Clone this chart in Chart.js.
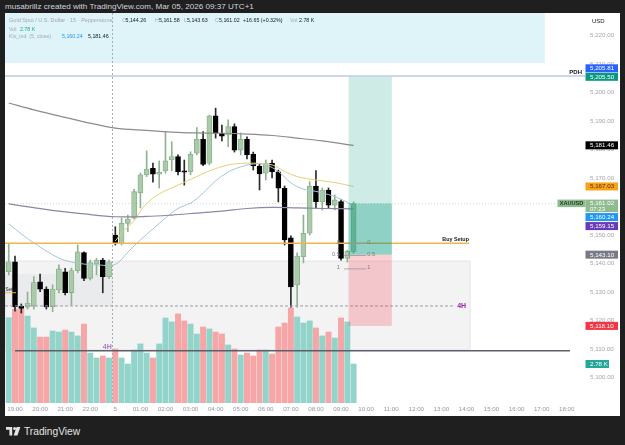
<!DOCTYPE html>
<html>
<head>
<meta charset="utf-8">
<title>XAUUSD 15m</title>
<script src="https://cdn.jsdelivr.net/npm/chart.js@4.4.1/dist/chart.umd.min.js"></script>
<style>
  html, body { margin: 0; padding: 0; width: 625px; height: 445px; overflow: hidden; background: #1f1f1f; font-family: "Liberation Sans", Arial, sans-serif; }
  #head { position: absolute; left: 5px; top: 2px; font-size: 8.1px; line-height: 10px; color: #d1d4dc; white-space: nowrap; }
  #frame { position: absolute; left: 5px; top: 13px; width: 615px; height: 403px; background: #fff; }
  .lg { position: absolute; font-size: 5.3px; line-height: 8px; height: 8px; color: #131722; white-space: nowrap; }
  .g { color: #a4a7b0; }
  #foot { position: absolute; left: 6px; top: 424px; height: 14px; display: flex; align-items: center; color: #e4e4e4; font-size: 10.2px; }
  #foot svg { margin-right: 3px; }
</style>
</head>
<body>
<div id="head">musabrillz created with TradingView.com, Mar 05, 2026 09:37 UTC+1</div>
<div id="frame"><canvas id="chart" width="615" height="403"></canvas></div>

<div class="lg g" style="left:9px;top:16px;font-size:5.55px">Gold Spot / U.S. Dollar · 15 · Pepperstone</div>
<div class="lg g" style="left:122px;top:16px">O</div><div class="lg" style="left:125.5px;top:16px">5,144.26</div>
<div class="lg g" style="left:155px;top:16px">H</div><div class="lg" style="left:159px;top:16px">5,161.58</div>
<div class="lg g" style="left:184px;top:16px">L</div><div class="lg" style="left:187px;top:16px">5,143.63</div>
<div class="lg g" style="left:215px;top:16px">C</div><div class="lg" style="left:219px;top:16px">5,161.02</div>
<div class="lg" style="left:243px;top:16px">+16.65 (+0.32%)</div>
<div class="lg g" style="left:290px;top:16px">Vol</div><div class="lg" style="left:299px;top:16px">2.78 K</div>
<div class="lg g" style="left:9px;top:24.5px">Vol</div><div class="lg" style="left:20px;top:24.5px;color:#26a69a">2.78 K</div>
<div class="lg g" style="left:9px;top:32px">Kiv_ind &nbsp;(5, close)</div>
<div class="lg" style="left:62px;top:32px;color:#2196f3">5,160.24</div>
<div class="lg" style="left:88px;top:32px">5,181.46</div>

<div id="foot">
  <svg width="15" height="9" viewBox="0 0 15 9"><path d="M0 0h6.2v8.6H3.4V2.7H0z M7.6 8.6L10.6 0H14.4L11.4 8.6z" fill="#e4e4e4"/><circle cx="8.6" cy="1.5" r="1.5" fill="#e4e4e4"/></svg>
  <span>TradingView</span>
</div>

<script>
// 15-minute bars, index 0 = 18:45 (Mar 04), index 55 = 09:30 (Mar 05, still forming)
const opens  = [5137.1, 5140.6, 5125.1, 5124.7, 5125.1, 5133.6, 5131.0, 5124.8, 5130.7, 5137.1,
                5129.8, 5137.5, 5143.8, 5134.8, 5139.8, 5141.2, 5135.4, 5150.0, 5147.1, 5154.1,
                5155.9, 5164.8, 5171.1, 5173.4, 5171.3, 5172.5, 5176.3, 5177.5, 5172.5, 5172.2,
                5178.7, 5183.6, 5175.2, 5191.8, 5185.7, 5185.1, 5188.0, 5179.8, 5183.6, 5178.4,
                5174.2, 5171.7, 5175.2, 5172.2, 5166.4, 5149.0, 5132.5, 5142.4, 5150.6, 5167.2,
                5161.7, 5165.8, 5160.5, 5161.7, 5141.8, 5144.26];
const highs  = [5147.2, 5142.6, 5125.8, 5130.0, 5135.4, 5136.3, 5131.8, 5132.5, 5139.5, 5138.3,
                5138.4, 5146.5, 5144.1, 5141.2, 5141.8, 5141.8, 5141.2, 5152.9, 5156.0, 5157.0,
                5166.0, 5171.7, 5179.5, 5175.2, 5176.0, 5186.3, 5182.7, 5178.1, 5176.3, 5179.2,
                5187.7, 5186.3, 5192.1, 5194.5, 5188.6, 5190.4, 5189.0, 5185.8, 5184.4, 5179.1,
                5174.9, 5176.3, 5176.3, 5172.8, 5167.2, 5149.7, 5143.7, 5157.0, 5168.7, 5172.6,
                5166.5, 5166.5, 5164.0, 5162.3, 5144.7, 5161.58];
const lows   = [5136.0, 5123.3, 5122.6, 5124.0, 5124.0, 5130.1, 5124.0, 5123.1, 5129.7, 5129.0,
                5125.4, 5136.7, 5134.0, 5134.2, 5136.0, 5129.7, 5134.8, 5146.5, 5146.5, 5151.2,
                5155.6, 5159.5, 5170.5, 5168.5, 5166.5, 5171.7, 5172.5, 5171.1, 5167.5, 5171.1,
                5178.1, 5174.3, 5174.6, 5184.0, 5183.0, 5181.0, 5179.1, 5178.1, 5176.7, 5172.8,
                5165.8, 5169.3, 5170.0, 5161.6, 5146.5, 5124.7, 5124.7, 5140.2, 5150.0, 5159.5,
                5158.8, 5159.5, 5158.8, 5141.2, 5140.5, 5143.63];
const closes = [5140.6, 5124.8, 5124.2, 5126.1, 5133.3, 5131.0, 5124.8, 5131.0, 5138.1, 5129.8,
                5137.5, 5144.1, 5134.8, 5140.3, 5141.2, 5135.4, 5140.6, 5147.1, 5154.1, 5155.6,
                5165.2, 5171.1, 5173.1, 5171.3, 5172.0, 5176.0, 5177.5, 5172.2, 5172.0, 5178.3,
                5183.6, 5174.8, 5191.8, 5185.7, 5184.7, 5188.0, 5179.8, 5183.6, 5178.1, 5174.2,
                5171.4, 5175.2, 5172.2, 5166.4, 5148.3, 5131.8, 5142.6, 5150.6, 5167.2, 5161.7,
                5165.8, 5160.5, 5162.3, 5141.8, 5144.26, 5161.02];
// volume in thousands
const volumes = [6.08, 6.70, 6.70, 6.20, 5.35, 4.70, 4.70, 5.13, 5.06, 5.20,
                 5.06, 4.78, 5.63, 3.56, 3.21, 3.35, 3.21, 3.85, 3.21, 2.78,
                 3.78, 4.21, 3.56, 3.21, 4.21, 6.06, 5.78, 6.35, 5.85, 5.63,
                 4.92, 5.42, 5.28, 5.06, 4.92, 4.14, 3.85, 3.42, 3.56, 3.35,
                 3.78, 3.78, 3.49, 5.42, 5.70, 6.77, 6.13, 5.70, 5.85, 5.35,
                 4.78, 5.06, 4.63, 6.06, 5.78, 2.78];

// moving averages, read at selected bars
const slowMaBars = [0, 4, 8, 12, 17, 22, 26, 30, 34, 38, 42, 46, 50, 55];
const slowMa     = [5196.3, 5193.9, 5191.8, 5189.7, 5187.5, 5186.7, 5186.1, 5185.8, 5185.7, 5185.4, 5184.9, 5184.0, 5183.0, 5181.46];
const midMaBars  = [0, 4, 8, 12, 17, 22, 26, 30, 34, 38, 42, 46, 50, 55];
const midMa      = [5160.9, 5159.6, 5158.4, 5157.4, 5156.4, 5156.5, 5157.0, 5157.7, 5158.4, 5159.3, 5159.7, 5159.5, 5159.3, 5159.15];
const kivBars    = [0, 2, 4, 6, 8, 10, 12, 14, 17, 19, 21, 23, 25, 27, 29, 31, 33, 35, 37, 39, 41, 43, 45, 47, 49, 51, 53, 55];
const kivLine    = [5153.9, 5150.4, 5147.2, 5144.4, 5141.9, 5140.5, 5139.8, 5139.5, 5139.7, 5144.0, 5148.3, 5152.1, 5156.0, 5159.3,
                    5161.2, 5164.7, 5169.0, 5172.1, 5173.9, 5174.9, 5174.6, 5172.3, 5168.3, 5166.1, 5165.3, 5164.2, 5162.6, 5160.24];
const vwapBars   = [17, 18, 19, 20, 21, 22, 24, 27, 30, 32, 35, 37, 39, 42, 44, 46, 49, 52, 55];
const vwapLine   = [5147.9, 5150.7, 5152.8, 5154.9, 5158.4, 5161.1, 5164.4, 5167.5, 5170.5, 5172.5, 5174.6, 5175.1, 5175.2,
                    5174.6, 5172.3, 5170.5, 5169.3, 5168.4, 5167.03];

// axes
const priceTicks   = [5100, 5110, 5120, 5130, 5140, 5150, 5160, 5170, 5180, 5190, 5200, 5210, 5220];
const timeTickBars = [1, 5, 9, 13, 17, 21, 25, 29, 33, 37, 41, 45, 49, 53, 57, 61, 65, 69, 73, 77, 81, 85, 89];
const timeTickText = ['19:00', '20:00', '21:00', '22:00', '5', '01:00', '02:00', '03:00', '04:00', '05:00', '06:00', '07:00',
                      '08:00', '09:00', '10:00', '11:00', '12:00', '13:00', '14:00', '15:00', '16:00', '17:00', '18:00'];

// price tags on the right axis
const tagPrices = [5161.02, 5205.50, 5181.46, 5167.03, 5143.10, 5118.10, 5205.81, 5160.24, 5159.15];
const tagColors = ['#8fbc8f', '#089981', '#000000', '#f7a21b', '#787b86', '#f23645', '#2962ff', '#2196f3', '#673ab7'];
const tagInk    = ['#ffffff', '#ffffff', '#ffffff', '#6b2a00', '#ffffff', '#ffffff', '#ffffff', '#ffffff', '#ffffff'];
const lastVolume = 2.78;

// drawings
const pdh = 5205.81;
const infoBoxEnd = 85.5, infoBoxBottom = 5210.35;
const zoneEnd = 73.6, zoneTop = 5140.9, zoneBottom = 5109.6;
const asiaBoxEnd = 16.55, asiaTop = 5136.3, asiaBottom = 5125.1;
const buySetup = 5147.1, buySetupEnd = 73.4;
const dashed4h = 5125.1, dashed4hEnd = 71.2;
const solid4h = 5109.4, solid4hStart = 1.0, solid4hEnd = 89.5;
const leftSetup = 5129.75;
const sessionBreak = 16.55;
const entry = 5143.10, target = 5205.50, stop = 5118.10, lastPrice = 5161.02;
const posStart = 54.2, posEnd = 61.1;
const fibPrices = [5147.1, 5142.8, 5138.1];
const fibText = ['0', '0.5', '1'];

const xMin = -0.595, xMax = 91.91;
const yMin = 5091.05, yMax = 5227.89;
const volMax = 27.8;

const FONT = '"Liberation Sans", Arial, sans-serif';
Chart.defaults.font.family = FONT;

const fmtPrice = v => v.toLocaleString('en-US', { minimumFractionDigits: 2, maximumFractionDigits: 2 });
const bars = opens.map((_, i) => i);
const isUp = bars.map(i => closes[i] >= opens[i]);

function hLine(ctx, x1, x2, y, color, width, dash) {
  ctx.beginPath();
  ctx.setLineDash(dash || []);
  ctx.strokeStyle = color;
  ctx.lineWidth = width;
  ctx.moveTo(x1, y);
  ctx.lineTo(x2, y);
  ctx.stroke();
  ctx.setLineDash([]);
}

function label(ctx, str, x, y, size, color, align, weight) {
  ctx.font = (weight || '') + ' ' + size + 'px ' + FONT;
  ctx.fillStyle = color;
  ctx.textAlign = align || 'left';
  ctx.textBaseline = 'middle';
  ctx.fillText(str, x, y);
}

function box(ctx, x1, y1, x2, y2, color) {
  ctx.fillStyle = color;
  ctx.fillRect(Math.min(x1, x2), Math.min(y1, y2), Math.abs(x2 - x1), Math.abs(y2 - y1));
}

const drawings = {
  id: 'drawings',
  beforeDatasetsDraw(chart) {
    const { ctx, chartArea: a, scales: { x, y } } = chart;
    const px = v => x.getPixelForValue(v), py = v => y.getPixelForValue(v);
    ctx.save();
    ctx.beginPath(); ctx.rect(a.left, a.top, a.width, a.height); ctx.clip();
    box(ctx, px(xMin), a.top, px(infoBoxEnd), py(infoBoxBottom), '#def4f8');
    box(ctx, px(xMin), py(zoneTop), px(zoneEnd), py(zoneBottom), 'rgba(120,123,134,0.09)');
    ctx.strokeStyle = 'rgba(120,123,134,0.16)';
    ctx.lineWidth = 1;
    ctx.strokeRect(px(xMin), py(zoneTop), px(zoneEnd) - px(xMin), py(zoneBottom) - py(zoneTop));
    box(ctx, px(xMin), py(asiaTop), px(asiaBoxEnd), py(asiaBottom), 'rgba(120,123,134,0.07)');
    ctx.restore();
  },
  afterDatasetsDraw(chart) {
    const { ctx, chartArea: a, scales: { x, y } } = chart;
    const px = v => x.getPixelForValue(v), py = v => y.getPixelForValue(v);
    ctx.save();
    ctx.beginPath(); ctx.rect(a.left, a.top, a.width, a.height); ctx.clip();

    // session break
    ctx.beginPath();
    ctx.setLineDash([2, 2]);
    ctx.strokeStyle = '#a9acb5';
    ctx.lineWidth = 1;
    ctx.moveTo(px(sessionBreak), a.top);
    ctx.lineTo(px(sessionBreak), a.bottom);
    ctx.stroke();
    ctx.setLineDash([]);

    // last price line
    hLine(ctx, a.left, a.right, py(lastPrice), 'rgba(143,188,143,0.45)', 1, [1, 2]);

    // PDH
    hLine(ctx, a.left, a.right, py(pdh), '#bccbea', 1.5);
    label(ctx, 'PDH', a.right - 3, py(pdh) - 4, 6, '#131722', 'right', 'bold');

    // buy setup
    hLine(ctx, a.left, px(buySetupEnd), py(buySetup), '#f2b548', 1.3);
    label(ctx, 'Buy Setup', px(buySetupEnd), py(buySetup) - 4, 5.4, '#131722', 'right', 'bold');
    hLine(ctx, a.left, a.left + 11, py(leftSetup), '#f2b548', 1);
    label(ctx, 'Setup', a.left + 0.5, py(leftSetup) - 3, 4.6, '#131722', 'left');

    // 4H levels
    hLine(ctx, a.left, px(dashed4hEnd), py(dashed4h), '#9e9aa8', 1, [3, 2]);
    label(ctx, '4H', px(dashed4hEnd) + 2, py(dashed4h), 7, '#9c27b0', 'left', 'bold');
    hLine(ctx, px(solid4hStart), px(solid4hEnd), py(solid4h), '#5d606b', 1.5);
    label(ctx, '4H', px(15.0), py(solid4h) - 3.5, 7, '#a57fc2', 'left', 'bold');

    // long position
    const l = px(posStart), r = px(posEnd);
    box(ctx, l, py(target), r, py(entry), 'rgba(8,153,129,0.2)');
    box(ctx, l, py(lastPrice), r, py(entry), 'rgba(8,153,129,0.32)');
    box(ctx, l, py(entry), r, py(stop), 'rgba(242,54,69,0.24)');

    // small fib
    fibPrices.forEach((p, k) => {
      hLine(ctx, px(53.5), px(57.0), py(p), '#9598a1', 0.8);
      label(ctx, fibText[k], px(52.8), py(p) - 1, 5.6, '#787b86', 'right');
      label(ctx, fibText[k], px(57.2), py(p) - 1, 5.6, '#787b86', 'left');
    });
    ctx.restore();
  },
  afterDraw(chart) {
    const { ctx, chartArea: a, scales: { y, yv } } = chart;
    ctx.save();
    label(ctx, 'USD', a.right + 7, 8, 6, '#131722', 'left');

    const placed = [];
    tagPrices.forEach((p, k) => {
      const h = k === 0 ? 12.5 : 8;
      let top = y.getPixelForValue(p) - 4;
      for (let n = 0; n < 6; n++) {
        const hit = placed.find(q => top < q.top + q.h + 0.5 && top + h > q.top - 0.5);
        if (!hit) break;
        top = p > hit.p ? hit.top - h - 0.5 : hit.top + hit.h + 1;
      }
      placed.push({ p, top, h });
      box(ctx, a.right + 0.5, top, a.right + 33, top + h, tagColors[k]);
      label(ctx, fmtPrice(p), a.right + 5, top + 4.2, 6.2, tagInk[k], 'left');
      if (k === 0) {
        label(ctx, '07:23', a.right + 5, top + 9.6, 6, tagInk[k], 'left');
        box(ctx, a.right - 27.5, top, a.right + 0.5, top + 7.5, tagColors[k]);
        label(ctx, 'XAUUSD', a.right - 13.5, top + 3.9, 5.6, '#1d331d', 'center', 'bold');
      }
    });

    const vy = yv.getPixelForValue(lastVolume);
    box(ctx, a.right + 0.5, vy - 4, a.right + 24, vy + 4, '#26a69a');
    label(ctx, lastVolume.toFixed(2) + ' K', a.right + 5, vy + 0.2, 6.2, '#ffffff', 'left');
    ctx.restore();
  }
};

new Chart(document.getElementById('chart'), {
  type: 'bar',
  data: {
    datasets: [
      {
        type: 'line', order: 1,
        data: slowMaBars.map((b, k) => ({ x: b, y: slowMa[k] })),
        borderColor: '#8c8c8c', borderWidth: 1.2, pointRadius: 0, tension: 0.35
      },
      {
        type: 'line', order: 1,
        data: midMaBars.map((b, k) => ({ x: b, y: midMa[k] })),
        borderColor: '#8d86a6', borderWidth: 1.2, pointRadius: 0, tension: 0.35
      },
      {
        type: 'line', order: 1,
        data: kivBars.map((b, k) => ({ x: b, y: kivLine[k] })),
        borderColor: '#a3c7d9', borderWidth: 1, pointRadius: 0, tension: 0.35
      },
      {
        type: 'line', order: 1,
        data: vwapBars.map((b, k) => ({ x: b, y: vwapLine[k] })),
        borderColor: '#e9cf78', borderWidth: 1, pointRadius: 0, tension: 0.35
      },
      {
        // candle bodies
        order: 2, grouped: false,
        data: bars.map(i => ({ x: i, y: [opens[i], closes[i]] })),
        backgroundColor: isUp.map(u => u ? '#a9cba9' : '#000000'),
        borderColor: isUp.map(u => u ? '#87ad89' : '#000000'),
        borderWidth: 0.8, borderSkipped: false, barThickness: 5, minBarLength: 1
      },
      {
        // wicks
        order: 3, grouped: false,
        data: bars.map(i => ({ x: i, y: [lows[i], highs[i]] })),
        backgroundColor: isUp.map(u => u ? '#8fb391' : '#2a2a2a'),
        barThickness: 1
      },
      {
        // volume
        order: 4, grouped: false, yAxisID: 'yv',
        data: bars.map(i => ({ x: i, y: volumes[i] })),
        backgroundColor: isUp.map(u => u ? '#92d4ca' : '#f6a6a7'),
        barThickness: 5.3
      }
    ]
  },
  options: {
    responsive: false,
    animation: false,
    events: [],
    layout: { padding: 0 },
    plugins: { legend: { display: false }, tooltip: { enabled: false } },
    scales: {
      x: {
        type: 'linear', min: xMin, max: xMax, offset: false,
        grid: { display: false, drawTicks: false },
        border: { display: false },
        ticks: {
          padding: 3, autoSkip: false, maxRotation: 0, minRotation: 0,
          font: { size: 6.2 }, color: '#9598a1',
          callback: v => timeTickText[timeTickBars.indexOf(v)]
        },
        afterBuildTicks: s => { s.ticks = timeTickBars.map(v => ({ value: v })); },
        afterFit: s => { s.height = 13; s.paddingLeft = 0; s.paddingRight = 0; }
      },
      y: {
        type: 'linear', position: 'right', min: yMin, max: yMax,
        grid: { display: false, drawTicks: false },
        border: { display: false },
        ticks: { padding: 5, font: { size: 6.2 }, color: '#a3a6af', callback: v => fmtPrice(v) },
        afterBuildTicks: s => { s.ticks = priceTicks.map(v => ({ value: v })); },
        afterFit: s => { s.width = 35; s.paddingTop = 0; s.paddingBottom = 0; }
      },
      yv: { type: 'linear', display: false, min: 0, max: volMax }
    }
  },
  plugins: [drawings]
});
</script>
</body>
</html>
